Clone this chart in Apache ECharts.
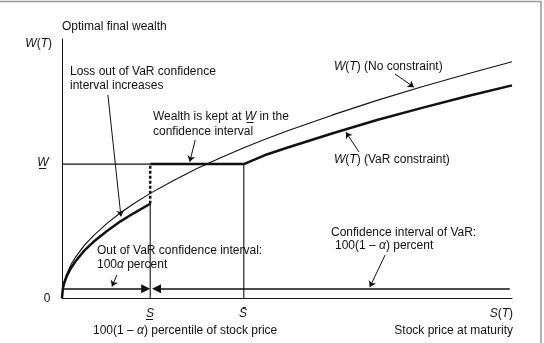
<!DOCTYPE html>
<html>
<head>
<meta charset="utf-8">
<style>html,body{margin:0;padding:0;background:#fff}#chart{width:544px;height:343px}</style>
<script src="https://cdn.jsdelivr.net/npm/echarts@6/dist/echarts.min.js"></script>
</head>
<body>
<div id="chart"></div>
<script>
// S(T) in axis units (0..100), W(T) in axis units (0..100)
var stockPrice = [0, 0.2, 0.5, 1, 2, 3, 5, 7, 10, 13, 16, 19.6, 25, 30, 35, 40.4, 45, 50, 60, 70, 80, 90, 100];
var wealthNoConstraint = [0, 4.1, 6.45, 9.1, 12.9, 15.8, 20.4, 24.1, 28.8, 32.9, 36.5, 40.4, 45.6, 50.0, 54.0, 58.0, 61.2, 64.5, 70.6, 76.3, 81.6, 86.5, 91.2];
var stockPriceLow = [0, 0.2, 0.5, 1, 2, 3, 5, 7, 10, 13, 16, 19.6];
var wealthVaRLow = [0, 3.7, 5.8, 8.2, 11.6, 14.2, 18.4, 21.7, 25.9, 29.6, 32.8, 36.4];
var stockPriceHigh = [40.4, 45, 50, 60, 70, 80, 90, 100];
var wealthVaRHigh = [51.7, 55.1, 58.0, 63.5, 68.7, 73.4, 77.9, 82.1];
var sLower = 19.6;   // S underbar
var sUpper = 40.4;   // S bar
var wFloor = 51.7;   // W underbar
var ciLevel = 3.6;   // height of the confidence interval arrows

var FONT = '"Liberation Sans", Arial, sans-serif';
var INK = '#111';

function zip(xs, ys) {
  var out = [];
  for (var i = 0; i < xs.length; i++) out.push([xs[i], ys[i]]);
  return out;
}

function seg(data, width, type) {
  return {
    type: 'line',
    data: data,
    symbol: 'none',
    silent: true,
    lineStyle: { color: INK, width: width, type: type || 'solid' },
    z: width > 2 ? 4 : 3
  };
}

var rich = {
  i: { fontStyle: 'italic', fontSize: 12, fontFamily: FONT, fill: INK }
};
function txt(x, y, s, align) {
  return {
    type: 'text', x: x, y: y, silent: true,
    style: { text: s, rich: rich, fontSize: 12, fontFamily: FONT, fill: INK, align: align || 'left', verticalAlign: 'middle' }
  };
}

// leader lines of the annotations [from, to] in axis units
var leaders = [
  [[10.2, 78.4], [13.1, 31.5]],
  [[29.6, 61.0], [28.4, 52.6]],
  [[74.0, 86.5], [78.2, 81.4]],
  [[66.0, 56.4], [63.1, 64.0]],
  [[12.2, 8.9], [11.1, 4.4]],
  [[71.8, 16.6], [68.4, 4.2]]
];

var chart = echarts.init(document.getElementById('chart'));

var guide = seg([[0, wFloor], [sLower, wFloor]], 1.1);
guide.markLine = {
  silent: true,
  animation: false,
  label: { show: false },
  symbol: ['none', 'arrow'],
  symbolSize: 6,
  lineStyle: { color: INK, width: 1, type: 'solid' },
  data: leaders.map(function (l) {
    return [{ coord: l[0] }, { coord: l[1] }];
  })
};

var ciArrows = seg([[sLower, 0], [sLower, wealthVaRLow[wealthVaRLow.length - 1]]], 1.1);
ciArrows.markLine = {
  silent: true,
  animation: false,
  label: { show: false },
  symbol: ['none', 'triangle'],
  symbolSize: 9,
  lineStyle: { color: INK, width: 1.5, type: 'solid' },
  data: [
    [{ coord: [0.2, ciLevel] }, { coord: [sLower - 1, ciLevel] }],
    [{ coord: [99.5, ciLevel] }, { coord: [sLower + 1.4, ciLevel] }]
  ]
};

chart.setOption({
  animation: false,
  backgroundColor: '#fff',
  grid: { left: 62, right: 32, top: 39, bottom: 45 },
  xAxis: {
    type: 'value', min: 0, max: 100,
    axisLine: { show: true, onZero: false, lineStyle: { color: INK, width: 1 } },
    axisTick: { show: false }, axisLabel: { show: false }, splitLine: { show: false }
  },
  yAxis: {
    type: 'value', min: 0, max: 100,
    axisLine: { show: true, onZero: false, lineStyle: { color: INK, width: 1 } },
    axisTick: { show: false }, axisLabel: { show: false }, splitLine: { show: false }
  },
  series: [
    seg(zip(stockPrice, wealthNoConstraint), 1.1),
    seg(zip(stockPriceLow, wealthVaRLow), 2.5),
    seg([[sLower, wFloor], [sUpper, wFloor]], 2.5),
    seg(zip(stockPriceHigh, wealthVaRHigh), 2.5),
    seg([[sLower, wealthVaRLow[wealthVaRLow.length - 1]], [sLower, wFloor]], 2.5, [3, 2]),
    guide,
    ciArrows,
    seg([[sUpper, 0], [sUpper, wFloor]], 1.1)
  ],
  graphic: [
    { type: 'polyline', silent: true, shape: { points: [[0, 1.5], [541, 1.5], [541, 343]] },
      style: { fill: 'none', stroke: '#999', lineWidth: 1.5 } },
    txt(62, 27, 'Optimal final wealth'),
    txt(52, 44, '{i|W}({i|T})', 'right'),
    txt(70, 72, 'Loss out of VaR confidence'),
    txt(70, 86, 'interval increases'),
    txt(153, 117, 'Wealth is kept at {i|W\u0332} in the'),
    txt(153, 132, 'confidence interval'),
    txt(334, 67, '{i|W}({i|T}) (No constraint)'),
    txt(334, 160, '{i|W}({i|T}) (VaR constraint)'),
    txt(97, 251, 'Out of VaR confidence interval:'),
    txt(97, 265, '100{i|\u03b1} percent'),
    txt(331, 233, 'Confidence interval of VaR:'),
    txt(335, 246, '100(1 \u2013 {i|\u03b1}) percent'),
    txt(47, 299, '0', 'center'),
    txt(43, 163, '{i|W\u0332}', 'center'),
    txt(150, 314, '{i|S\u0332}', 'center'),
    txt(243, 314, '{i|S\u0304}', 'center'),
    txt(513, 314, '{i|S}({i|T})', 'right'),
    txt(93, 331, '100(1 \u2013 {i|\u03b1}) percentile of stock price'),
    txt(513, 331, 'Stock price at maturity', 'right')
  ]
});
</script>
</body>
</html>
